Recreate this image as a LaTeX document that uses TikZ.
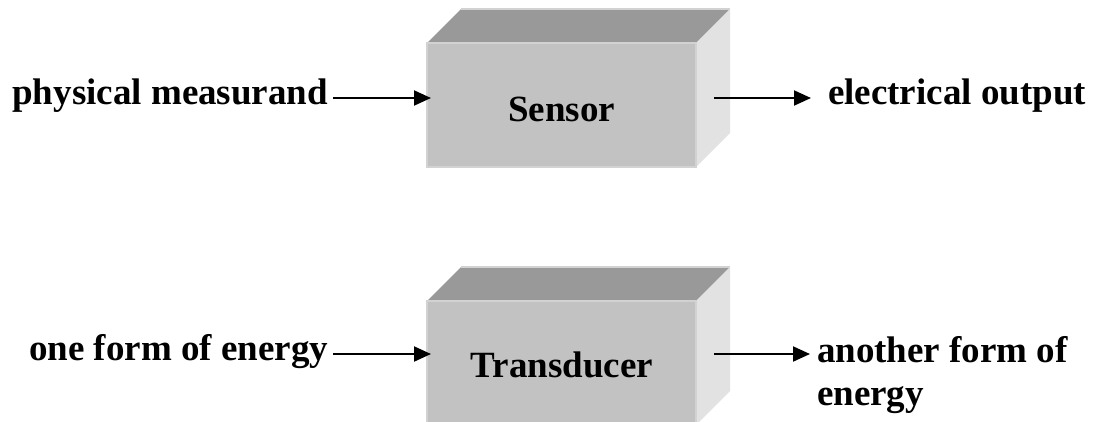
\documentclass[tikz,border=0pt]{standalone}
\usepackage{fontspec}
\setmainfont{Liberation Serif}
\usetikzlibrary{arrows.meta}
\definecolor{topface}{HTML}{999999}
\definecolor{frontface}{HTML}{C2C2C2}
\definecolor{sideface}{HTML}{E2E2E2}
\definecolor{edgelight}{HTML}{D2D2D2}
\tikzset{
  frontbox/.style={rectangle, fill=frontface, draw=edgelight, line width=1.2pt,
    minimum width=269pt, minimum height=124pt, inner sep=0pt, outer sep=0pt},
  label/.style={font=\bfseries\fontsize{37}{43}\selectfont, inner sep=0pt, outer sep=0pt},
  flow/.style={line width=2pt, -{Triangle[length=17pt,width=15pt]}},
}
\newcommand{\boxdepth}{34pt}
% the top and right faces of a block, drawn behind its front face
\newcommand{\blockfaces}[1]{%
  \fill[topface] (#1.north west) -- ([xshift=\boxdepth,yshift=\boxdepth]#1.north west)
    -- ([xshift=\boxdepth,yshift=\boxdepth]#1.north east) -- (#1.north east) -- cycle;
  \draw[edgelight, line width=1.2pt] ([xshift=\boxdepth,yshift=\boxdepth]#1.north west)
    -- ([xshift=\boxdepth,yshift=\boxdepth]#1.north east);
  \fill[sideface] (#1.north east) -- ([xshift=\boxdepth,yshift=\boxdepth]#1.north east)
    -- ([xshift=\boxdepth,yshift=\boxdepth]#1.south east) -- (#1.south east) -- cycle;
}
\begin{document}
\begin{tikzpicture}[x=1pt,y=-1pt]
\useasboundingbox (0,0) rectangle (1095,421);
\clip (0,0) rectangle (1095,421);

% Sensor block
\path (561.5,105) node[frontbox] (sensor) {};
\blockfaces{sensor}
\node[frontbox] at (sensor.center) {};
\node[label, anchor=base] (sensortext) at (561.5,121) {Sensor};

\node[label, anchor=base east] (measurand) at (328,104) {physical measurand};
\node[label, anchor=base west] (elecout) at (828,104) {electrical output};
\coordinate (sin) at (431,98);
\coordinate (sout) at (714,98);
\draw[flow] ([xshift=5pt]measurand.east |- sin) -- (sin);
\draw[flow] (sout) -- ([xshift=-17pt]elecout.west |- sout);

% Transducer block
\path (561.5,363) node[frontbox] (trans) {};
\blockfaces{trans}
\node[frontbox] at (trans.center) {};
\node[label, anchor=base] (transtext) at (562,377) {Transducer};

\node[label, anchor=base east] (oneform) at (328,360) {one form of energy};
\node[label, anchor=base west] (another) at (817,362) {another form of};
\node[label, anchor=base west] (another2) at (817,405) {energy};
\coordinate (tin) at (431,354);
\coordinate (tout) at (714,354);
\draw[flow] ([xshift=5pt]oneform.east |- tin) -- (tin);
\draw[flow] (tout) -- ([xshift=-7pt]another.west |- tout);
\end{tikzpicture}
\end{document}
